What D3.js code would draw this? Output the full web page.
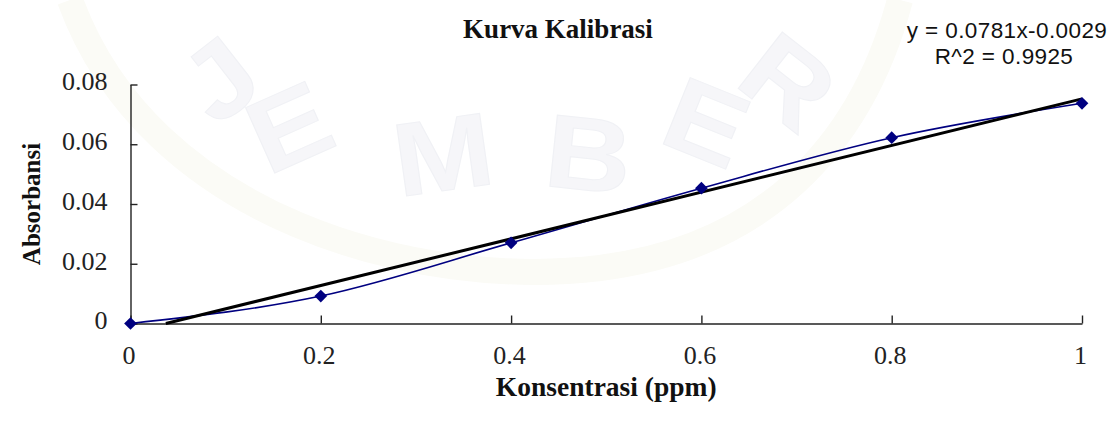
<!DOCTYPE html>
<html>
<head>
<meta charset="utf-8">
<script src="https://cdn.jsdelivr.net/npm/d3@7"></script>
<style>
  body { margin: 0; background: #fff; }
  svg { display: block; }
</style>
</head>
<body>
<div id="chart"></div>
<script>
// DATA
const konsentrasi = [0, 0.2, 0.4, 0.6, 0.8, 1];
const absorbansi = [0, 0.0092, 0.027, 0.0453, 0.0622, 0.0737];
const xTicks = [0, 0.2, 0.4, 0.6, 0.8, 1];
const yTicks = [0, 0.02, 0.04, 0.06, 0.08];
const trendSlope = 0.0781;
const trendIntercept = -0.0029;
const rSquared = 0.9925;
const watermarkLetters = ["J", "E", "M", "B", "E", "R"];

const width = 1114, height = 426;
const margin = { top: 84.5, right: 32, bottom: 102.5, left: 130.5 };

const svg = d3.select("#chart")
  .append("svg")
  .attr("width", width)
  .attr("height", height);

// faint repository watermark in the background
const wm = svg.append("g").attr("fill", "#f6f6f9").attr("stroke", "#f0f1f5").attr("stroke-width", 1);
wm.append("path")
  .attr("d", "M 70 0 C 150 220, 420 290, 600 268 C 760 248, 860 150, 900 0")
  .attr("fill", "none").attr("stroke", "#fbfbf6").attr("stroke-width", 26);
const wmPos = [[242, 108, -38], [304, 160, -24], [448, 190, -8], [585, 190, 6], [693, 156, 22], [766, 110, 38]];
wm.selectAll("text")
  .data(watermarkLetters)
  .join("text")
  .attr("transform", (d, i) => `translate(${wmPos[i][0]},${wmPos[i][1]}) rotate(${wmPos[i][2]}) scale(1.15,1)`)
  .attr("text-anchor", "middle")
  .attr("font-family", "Liberation Sans, Arial, sans-serif")
  .attr("font-weight", "bold")
  .attr("font-size", 104)
  .text(d => d);

// SCALES
const x = d3.scaleLinear().domain([0, 1]).range([margin.left, width - margin.right]);
const y = d3.scaleLinear().domain([0, 0.08]).range([height - margin.bottom, margin.top]);

const fmt = d => String(+d.toFixed(2));

// AXES
const yAxis = svg.append("g")
  .attr("transform", `translate(${margin.left},0)`)
  .call(d3.axisLeft(y).tickValues(yTicks).tickSize(-7).tickSizeOuter(0).tickPadding(23).tickFormat(fmt));
const xAxis = svg.append("g")
  .attr("transform", `translate(0,${height - margin.bottom})`)
  .call(d3.axisBottom(x).tickValues(xTicks).tickSize(-8).tickSizeOuter(0).tickPadding(22).tickFormat(fmt));

[xAxis, yAxis].forEach(a => {
  a.select(".domain").attr("stroke", "#222").attr("stroke-width", 1.4);
  a.selectAll(".tick line").attr("stroke", "#222").attr("stroke-width", 1.4);
  a.selectAll(".tick text")
    .attr("fill", "#222")
    .attr("font-family", "Liberation Serif, Times New Roman, serif")
    .attr("font-size", 26);
});
yAxis.selectAll(".tick text").attr("y", -3);
xAxis.selectAll(".tick text").attr("x", -2);

// DATA LINE (smoothed like the spreadsheet chart)
const line = d3.line()
  .x(d => x(d[0]))
  .y(d => y(d[1]))
  .curve(d3.curveMonotoneX);
const pts = konsentrasi.map((k, i) => [k, absorbansi[i]]);

svg.append("path")
  .datum(pts)
  .attr("fill", "none")
  .attr("stroke", "#000080")
  .attr("stroke-width", 1.6)
  .attr("d", line);

// LINEAR TRENDLINE, clipped at the bottom of the plot
const xStart = Math.max(0, -trendIntercept / trendSlope);
svg.append("line")
  .attr("x1", x(xStart)).attr("y1", y(trendSlope * xStart + trendIntercept))
  .attr("x2", x(1)).attr("y2", y(trendSlope * 1 + trendIntercept))
  .attr("stroke", "#000")
  .attr("stroke-width", 3);

// MARKERS
svg.append("g")
  .selectAll("path")
  .data(pts)
  .join("path")
  .attr("transform", d => `translate(${x(d[0])},${y(d[1])}) rotate(45)`)
  .attr("d", "M-4.5,-4.5H4.5V4.5H-4.5Z")
  .attr("fill", "#000080");

// TEXTS
svg.append("text")
  .attr("x", 558).attr("y", 38)
  .attr("text-anchor", "middle")
  .attr("font-family", "Liberation Serif, Times New Roman, serif")
  .attr("font-weight", "bold")
  .attr("font-size", 27)
  .attr("fill", "#111")
  .text("Kurva Kalibrasi");

svg.append("text")
  .attr("x", (x(0) + x(1)) / 2).attr("y", 396)
  .attr("text-anchor", "middle")
  .attr("font-family", "Liberation Serif, Times New Roman, serif")
  .attr("font-weight", "bold")
  .attr("font-size", 27.5)
  .attr("fill", "#111")
  .text("Konsentrasi (ppm)");

svg.append("text")
  .attr("transform", `translate(40,${(y(0) + y(0.08)) / 2}) rotate(-90)`)
  .attr("text-anchor", "middle")
  .attr("font-family", "Liberation Serif, Times New Roman, serif")
  .attr("font-weight", "bold")
  .attr("font-size", 25)
  .attr("fill", "#111")
  .text("Absorbansi");

const eq = svg.append("text")
  .attr("text-anchor", "middle")
  .attr("font-family", "Liberation Sans, Arial, sans-serif")
  .attr("font-size", 22.5)
  .attr("letter-spacing", 0.4)
  .attr("fill", "#111");
eq.append("tspan").attr("x", 1007).attr("y", 38)
  .text(`y = ${trendSlope}x-${Math.abs(trendIntercept)}`);
eq.append("tspan").attr("x", 1004).attr("y", 64)
  .text(`R^2 = ${rSquared}`);
</script>
</body>
</html>
